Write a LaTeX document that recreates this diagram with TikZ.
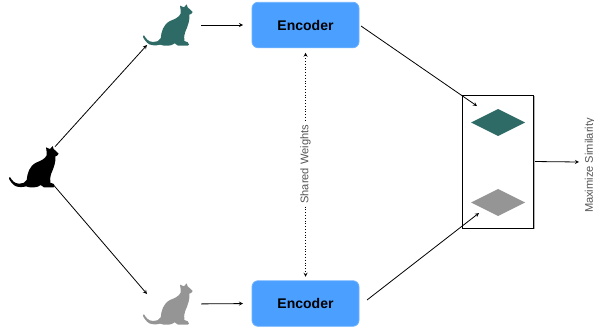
\documentclass[tikz,border=0pt]{standalone}
\usepackage{fontspec}
\setmainfont{Liberation Sans}
\usetikzlibrary{shadows}
\definecolor{catgreen}{HTML}{2F6B66}
\definecolor{catgray}{HTML}{959595}
\definecolor{encblue}{HTML}{4A9FFF}
\definecolor{labelgray}{HTML}{555555}
\tikzset{catshape/.pic={
  \fill[pic actions,x=0.3333pt,y=-0.3333pt,shift={(-102,-110)}] (30,141)
    .. controls (36,150) and (42,161) .. (58,161)
    .. controls (68,161) and (76,158) .. (80,150)
    .. controls (82,130) and (88,108) .. (108,98)
    .. controls (122,92) and (134,88) .. (140,76)
    .. controls (141,68) and (139,60) .. (138,52)
    -- (150,57) -- (158,48) -- (161,57)
    .. controls (166,60) and (170,66) .. (176,71)
    .. controls (174,76) and (170,78) .. (166,79)
    .. controls (168,95) and (162,112) .. (154,130)
    .. controls (150,142) and (150,150) .. (151,158)
    .. controls (158,160) and (166,162) .. (165,169)
    .. controls (164,172) and (160,172) .. (152,172)
    .. controls (142,172) and (136,172) .. (132,172)
    .. controls (128,170) and (127,166) .. (122,165)
    .. controls (118,168) and (112,172) .. (100,172)
    .. controls (92,172) and (84,172) .. (78,169)
    .. controls (68,172) and (56,172) .. (46,168)
    .. controls (36,162) and (30,152) .. (27,146)
    .. controls (27,143) and (29,140) .. (30,141) -- cycle;
}}
\begin{document}
\begin{tikzpicture}[x=1pt,y=-1pt,>=stealth,line width=0.8pt]
 \tikzstyle{catnode} = [minimum width=42pt,minimum height=40pt,inner sep=0,outer sep=0]
 \tikzstyle{encoder} = [fill=encblue,draw=encblue!80!white,rounded corners=6pt,minimum width=107pt,minimum height=45.5pt,inner sep=0,outer sep=0,font=\fontsize{14}{14}\selectfont\bfseries]
 \tikzstyle{latent} = [minimum width=54pt,minimum height=27pt,inner sep=0,outer sep=0]
 \tikzstyle{graylabel} = [rotate=90,text=labelgray,font=\fontsize{11.1}{11.1}\selectfont]
 \useasboundingbox (0,0) rectangle (594,332);

% Cats
 \node[catnode] (catBlack) at (34,166.7) {}; \pic[black] at (catBlack) {catshape};
 \node[catnode] (catGreen) at (168,25) {}; \pic[catgreen] at (catGreen) {catshape};
 \node[catnode] (catGray) at (168,304) {}; \pic[catgray] at (catGray) {catshape};
 \coordinate (grayIn) at (147,294);

% Encoders
 \node[encoder] (encTop) at (305.5,25) {Encoder};
 \node[encoder] (encBot) at (305.5,303.5) {Encoder};

% Output panel
 \draw[black!30,line width=1.2pt] (534.2,96) -- (534.2,228.8) -- (463,228.8);
 \node[draw=black,minimum width=71pt,minimum height=133pt,inner sep=0,outer sep=0] (panel) at (497.5,161.5) {};
 \node[latent] (repGreen) at (498,122.5) {};
 \fill[catgreen] (repGreen.west) -- (repGreen.north) -- (repGreen.east) -- (repGreen.south) -- cycle;
 \node[latent] (repGray) at (498,202.5) {};
 \fill[catgray] (repGray.west) -- (repGray.north) -- (repGray.east) -- (repGray.south) -- cycle;

 \coordinate (topOut) at (361,26);
 \coordinate (topIn) at (477,106);
 \coordinate (botOut) at (367,300);
 \coordinate (botIn) at (479,213);
 \node[graylabel,inner sep=0] (simLabel) at (590,165.5) {Maximize Similarity};
 \coordinate (simIn) at (579,162);

% Connectors
 \draw[->] (catBlack.north east) -- (catGreen.south west);
 \draw[->] (catBlack.south east) -- (grayIn);
 \draw[->,shorten <=12pt,shorten >=9pt] (catGreen.east) -- (encTop.west);
 \draw[->,shorten <=12pt,shorten >=9pt] (catGray.east) -- (encBot.west);
 \draw[<->,dotted,shorten <=5pt,shorten >=4pt] (encTop.south) -- node[graylabel,fill=white,inner sep=2.5pt] (sharedLabel) {Shared Weights} (encBot.north);
 \draw[->] (topOut) -- (topIn);
 \draw[->] (botOut) -- (botIn);
 \draw[->,shorten <=2pt] (panel.east) -- (simIn);

\end{tikzpicture}
\end{document}
